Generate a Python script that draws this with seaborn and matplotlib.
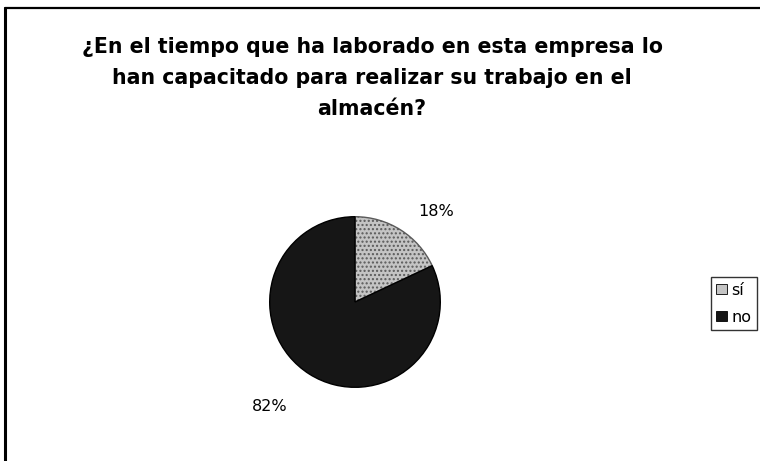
import matplotlib
matplotlib.use("Agg")
import matplotlib.pyplot as plt
import seaborn as sns
from matplotlib.lines import Line2D

sns.set_theme(style="white")
plt.rcParams['font.family'] = ['DejaVu Sans']
plt.rcParams['text.color'] = 'black'

categories = ["sí", "no"]
values = [18, 82]
label_texts = ["18%", "82%"]
title = "¿En el tiempo que ha laborado en esta empresa lo\nhan capacitado para realizar su trabajo en el\nalmacén?"

colors = ["#c4c4c4", "#161616"]

fig = plt.figure(figsize=(7.6, 4.61), dpi=100)
fig.patch.set_facecolor("white")

# frame lines (top and left)
fig.add_artist(Line2D([5/760, 5/760], [0, 1 - 8/461], transform=fig.transFigure, color="black", lw=2.2))
fig.add_artist(Line2D([5/760, 1.0], [1 - 8/461, 1 - 8/461], transform=fig.transFigure, color="black", lw=1.6))

ax = fig.add_axes([(355 - 87) / 760, 1 - (302 + 87) / 461, 174 / 760, 174 / 461])
wedges, _ = ax.pie(values, colors=colors, startangle=90, counterclock=False,
                   wedgeprops=dict(edgecolor="black", linewidth=1.0))
wedges[0].set_hatch("....")
wedges[0].set_edgecolor("#5a5a5a")
ax.set_aspect("equal")
ax.set_xlim(-1.02, 1.02)
ax.set_ylim(-1.02, 1.02)

label_pos = [(0.95, 1.06), (-1.0, -1.23)]
for txt, (px, py) in zip(label_texts, label_pos):
    ax.text(px, py, txt, ha="center", va="center", fontsize=11.5, color="black", clip_on=False)

fig.text(372 / 760, 1 - 78 / 461, title, ha="center", va="center",
         fontsize=14.8, fontweight="bold", linespacing=1.68, color="black")

handles = [plt.Rectangle((0, 0), 1, 1, facecolor=c, edgecolor="black", linewidth=0.6) for c in colors]
leg = fig.legend(handles, categories, loc="upper right", bbox_to_anchor=(757 / 760, 1 - 277 / 461),
                 fontsize=11.5, frameon=True, fancybox=False, edgecolor="black",
                 handlelength=0.65, handleheight=0.65, handletextpad=0.3, borderpad=0.35,
                 labelspacing=0.75, borderaxespad=0.0, labelcolor="black")
leg.get_frame().set_linewidth(1.0)

fig.savefig("out.png", dpi=100, facecolor="white")
